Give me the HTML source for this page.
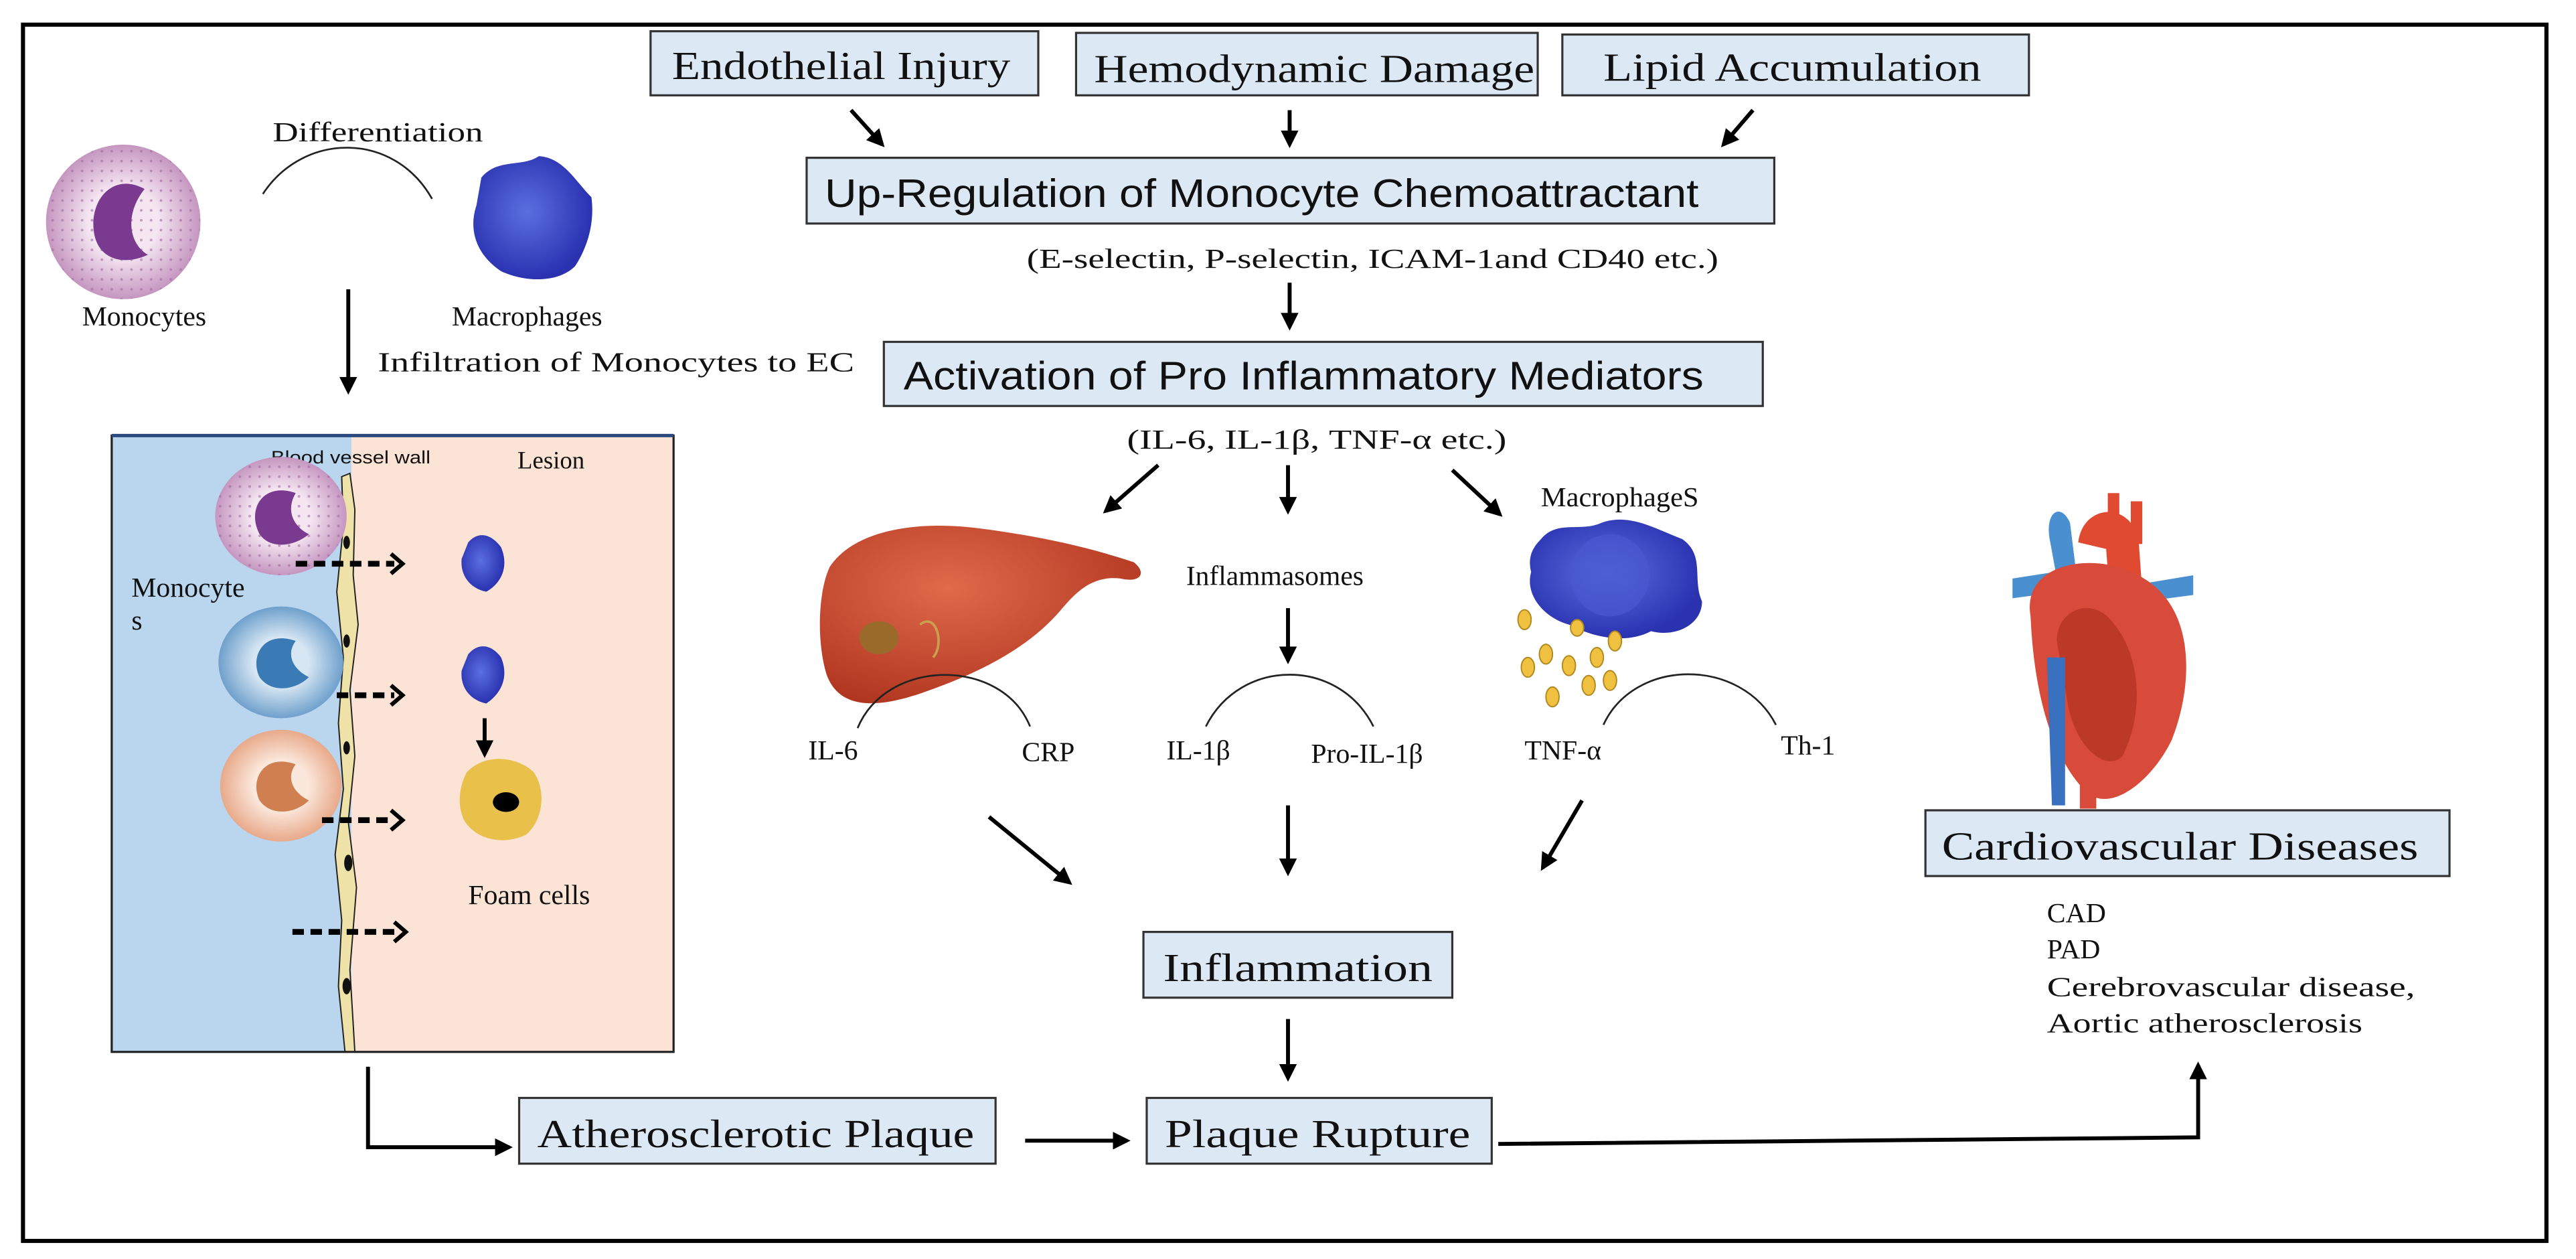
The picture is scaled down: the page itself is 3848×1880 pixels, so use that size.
<!DOCTYPE html>
<html><head><meta charset="utf-8"><style>
html,body{margin:0;padding:0;background:#fff;}
svg{display:block;}
.s{font-family:"Liberation Serif",serif;fill:#111;}
.a{font-family:"Liberation Sans",sans-serif;fill:#111;}
.box{fill:#dce9f5;stroke:#333;stroke-width:1.3;}
.ln{stroke:#000;stroke-width:2.4;fill:none;}
.arc{stroke:#222;stroke-width:1.1;fill:none;}
</style></head><body>
<svg width="3848" height="1880" viewBox="0 0 1568 766" preserveAspectRatio="none" xmlns="http://www.w3.org/2000/svg">
<defs>
<marker id="ah" viewBox="0 0 10 10" refX="8" refY="5" markerWidth="4.5" markerHeight="4.5" orient="auto"><path d="M0,0 L10,5 L0,10 z" fill="#000"/></marker>
<radialGradient id="gp" cx="50%" cy="50%" r="50%"><stop offset="0.45" stop-color="#f5e6f2"/><stop offset="1" stop-color="#c596c0"/></radialGradient>
<radialGradient id="gb" cx="50%" cy="50%" r="50%"><stop offset="0.45" stop-color="#d6e6f3"/><stop offset="1" stop-color="#6fa0cc"/></radialGradient>
<radialGradient id="go" cx="50%" cy="50%" r="50%"><stop offset="0.45" stop-color="#fbe8dc"/><stop offset="1" stop-color="#e8a98a"/></radialGradient>
<radialGradient id="gm" cx="45%" cy="45%" r="55%"><stop offset="0" stop-color="#5a6fe0"/><stop offset="1" stop-color="#2a32b0"/></radialGradient>
<radialGradient id="gl" cx="40%" cy="35%" r="70%"><stop offset="0" stop-color="#e06a4a"/><stop offset="1" stop-color="#b0351f"/></radialGradient>
<pattern id="dots" width="6" height="6" patternUnits="userSpaceOnUse"><circle cx="2" cy="2" r="0.8" fill="#a06aa0" opacity="0.6"/></pattern>
</defs>
<rect x="0" y="0" width="1568" height="766" fill="#fff"/>
<rect x="14" y="15" width="1536" height="740" fill="none" stroke="#000" stroke-width="2.5"/>

<rect class="box" x="396" y="19" width="236" height="39"/>
<text class="s" x="409" y="48" font-size="24" textLength="206" lengthAdjust="spacingAndGlyphs">Endothelial Injury</text>
<rect class="box" x="655" y="20" width="281" height="38"/>
<text class="s" x="666" y="50" font-size="24" textLength="268" lengthAdjust="spacingAndGlyphs">Hemodynamic Damage</text>
<rect class="box" x="951" y="21" width="284" height="37"/>
<text class="s" x="976" y="49" font-size="24" textLength="230" lengthAdjust="spacingAndGlyphs">Lipid Accumulation</text>
<line class="ln" x1="518" y1="67" x2="537" y2="88" marker-end="url(#ah)"/>
<line class="ln" x1="785" y1="67" x2="785" y2="88" marker-end="url(#ah)"/>
<line class="ln" x1="1067" y1="67" x2="1049" y2="88" marker-end="url(#ah)"/>

<rect class="box" x="491" y="96" width="589" height="40"/>
<text class="a" x="502" y="126" font-size="24" textLength="532" lengthAdjust="spacingAndGlyphs">Up-Regulation of Monocyte Chemoattractant</text>
<text class="s" x="625" y="163" font-size="17" textLength="421" lengthAdjust="spacingAndGlyphs">(E-selectin, P-selectin, ICAM-1and CD40 etc.)</text>
<line class="ln" x1="785" y1="172" x2="785" y2="199" marker-end="url(#ah)"/>

<rect class="box" x="538" y="208" width="535" height="39"/>
<text class="a" x="550" y="237" font-size="24" textLength="487" lengthAdjust="spacingAndGlyphs">Activation of Pro Inflammatory Mediators</text>
<text class="s" x="686" y="273" font-size="17" textLength="231" lengthAdjust="spacingAndGlyphs">(IL-6, IL-1β, TNF-α etc.)</text>
<line class="ln" x1="705" y1="283" x2="673" y2="311" marker-end="url(#ah)"/>
<line class="ln" x1="784" y1="283" x2="784" y2="311" marker-end="url(#ah)"/>
<line class="ln" x1="884" y1="286" x2="913" y2="313" marker-end="url(#ah)"/>

<text class="s" x="938" y="308" font-size="17" textLength="96" lengthAdjust="spacingAndGlyphs">MacrophageS</text>
<text class="s" x="722" y="356" font-size="17" textLength="108" lengthAdjust="spacingAndGlyphs">Inflammasomes</text>
<line class="ln" x1="784" y1="370" x2="784" y2="402" marker-end="url(#ah)"/>

<path d="M505,345 C520,322 560,316 600,322 C630,326 660,332 690,342 C698,348 695,355 682,352 C665,350 655,360 645,372 C625,395 595,410 560,422 C530,432 510,430 503,410 C497,390 498,360 505,345 Z" fill="url(#gl)"/>
<ellipse cx="535" cy="388" rx="12" ry="10" fill="#9a6a2a"/>
<path d="M560,380 C570,372 575,392 568,400" stroke="#c8a050" stroke-width="1.5" fill="none"/>

<path d="M938,328 C948,316 962,324 975,318 C992,312 1008,322 1024,328 C1038,338 1030,352 1036,366 C1036,380 1020,388 1005,384 C990,392 970,388 955,380 C940,376 928,362 932,348 C930,340 932,334 938,328 Z" fill="url(#gm)"/>
<ellipse cx="980" cy="350" rx="24" ry="25" fill="#4858d0" opacity="0.7"/>
<g fill="#f0c040" stroke="#b08a20" stroke-width="0.8">
<ellipse cx="928" cy="377" rx="4" ry="6"/><ellipse cx="941" cy="398" rx="4" ry="6"/><ellipse cx="955" cy="405" rx="4" ry="6"/><ellipse cx="960" cy="382" rx="4" ry="5"/><ellipse cx="972" cy="400" rx="4" ry="6"/><ellipse cx="983" cy="390" rx="4" ry="6"/><ellipse cx="930" cy="406" rx="4" ry="6"/><ellipse cx="967" cy="417" rx="4" ry="6"/><ellipse cx="945" cy="424" rx="4" ry="6"/><ellipse cx="980" cy="414" rx="4" ry="6"/>
</g>

<path class="arc" d="M522,443 C540,400 610,400 627,442"/>
<text class="s" x="492" y="462" font-size="17">IL-6</text>
<text class="s" x="622" y="463" font-size="17">CRP</text>
<path class="arc" d="M734,442 C755,400 815,400 836,442"/>
<text class="s" x="710" y="462" font-size="17">IL-1β</text>
<text class="s" x="798" y="464" font-size="17">Pro-IL-1β</text>
<path class="arc" d="M976,441 C995,400 1060,400 1081,441"/>
<text class="s" x="928" y="462" font-size="17">TNF-α</text>
<text class="s" x="1084" y="459" font-size="17">Th-1</text>

<line class="ln" x1="602" y1="497" x2="651" y2="537" marker-end="url(#ah)"/>
<line class="ln" x1="784" y1="490" x2="784" y2="531" marker-end="url(#ah)"/>
<line class="ln" x1="963" y1="487" x2="939" y2="528" marker-end="url(#ah)"/>

<rect class="box" x="696" y="567" width="188" height="40"/>
<text class="s" x="708" y="597" font-size="24" textLength="164" lengthAdjust="spacingAndGlyphs">Inflammation</text>
<line class="ln" x1="784" y1="620" x2="784" y2="656" marker-end="url(#ah)"/>

<rect class="box" x="316" y="668" width="290" height="40"/>
<text class="s" x="327" y="698" font-size="24" textLength="266" lengthAdjust="spacingAndGlyphs">Atherosclerotic Plaque</text>
<rect class="box" x="698" y="668" width="210" height="40"/>
<text class="s" x="709" y="698" font-size="24" textLength="186" lengthAdjust="spacingAndGlyphs">Plaque Rupture</text>
<line class="ln" x1="624" y1="694" x2="686" y2="694" marker-end="url(#ah)"/>
<polyline class="ln" points="224,649 224,698 310,698" marker-end="url(#ah)"/>
<polyline class="ln" points="912,696 1338,692 1338,648" marker-end="url(#ah)"/>

<!-- heart -->
<g>
<path d="M1248,330 C1244,312 1254,305 1260,318 L1264,350 L1252,352 Z" fill="#4a90d0"/>
<path d="M1265,330 C1268,305 1300,305 1302,332 L1304,360 L1284,360 L1282,334 Z" fill="#e04a30"/>
<rect x="1283" y="300" width="7" height="28" fill="#e04a30"/>
<rect x="1297" y="305" width="7" height="26" fill="#e04a30"/>
<path d="M1225,352 L1270,345 L1270,358 L1225,364 Z" fill="#4a90d0"/>
<path d="M1305,355 L1335,350 L1335,362 L1305,366 Z" fill="#4a90d0"/>
<path d="M1236,375 C1230,340 1280,335 1305,352 C1338,372 1334,420 1322,450 C1310,475 1285,495 1270,482 C1248,460 1238,420 1236,375 Z" fill="#d84a3a"/>
<path d="M1252,390 C1252,370 1275,362 1287,380 C1302,398 1306,432 1292,460 C1282,470 1264,455 1259,430 Z" fill="#b03020" opacity="0.7"/>
<path d="M1246,400 L1257,400 L1257,490 L1249,490 Z" fill="#3a70c0"/>
<rect x="1266" y="472" width="10" height="20" fill="#d84a3a"/>
</g>
<rect class="box" x="1172" y="493" width="319" height="40"/>
<text class="s" x="1182" y="523" font-size="24" textLength="290" lengthAdjust="spacingAndGlyphs">Cardiovascular Diseases</text>
<text class="s" x="1246" y="561" font-size="17">CAD</text>
<text class="s" x="1246" y="583" font-size="17">PAD</text>
<text class="s" x="1246" y="606" font-size="17" textLength="224" lengthAdjust="spacingAndGlyphs">Cerebrovascular disease,</text>
<text class="s" x="1246" y="628" font-size="17" textLength="192" lengthAdjust="spacingAndGlyphs">Aortic atherosclerosis</text>

<text class="s" x="166" y="86" font-size="17" textLength="128" lengthAdjust="spacingAndGlyphs">Differentiation</text>
<path class="arc" d="M160,118 C185,80 240,80 263,121"/>
<circle cx="75" cy="135" r="47" fill="url(#gp)"/>
<circle cx="75" cy="135" r="47" fill="url(#dots)"/>
<path d="M88,115 C70,105 55,120 57,140 C59,158 75,162 90,155 C78,148 76,130 88,115 Z" fill="#7a3a90"/>
<path d="M293,108 C303,96 318,102 328,95 C343,96 350,110 360,120 C362,135 358,150 350,162 C340,172 320,172 305,165 C290,155 285,140 290,125 Z" fill="url(#gm)"/>
<text class="s" x="50" y="198" font-size="17">Monocytes</text>
<text class="s" x="275" y="198" font-size="17">Macrophages</text>
<text class="s" x="230" y="226" font-size="17" textLength="290" lengthAdjust="spacingAndGlyphs">Infiltration  of Monocytes to  EC</text>
<line class="ln" x1="212" y1="176" x2="212" y2="238" marker-end="url(#ah)"/>

<rect x="68" y="265" width="146" height="375" fill="#bad5ee"/>
<rect x="214" y="265" width="196" height="375" fill="#fbe3d6"/>
<path d="M208,290 L213,288 L216,310 L215,350 L218,380 L213,420 L216,460 L212,500 L217,540 L213,590 L216,640 L210,640 L206,600 L208,560 L204,520 L209,480 L206,440 L209,400 L205,360 L209,320 Z" fill="#efe2a8" stroke="#222" stroke-width="0.8"/>
<g fill="#111"><ellipse cx="211" cy="330" rx="2" ry="4"/><ellipse cx="211" cy="390" rx="2" ry="4"/><ellipse cx="211" cy="455" rx="2" ry="4"/><ellipse cx="212" cy="525" rx="2.5" ry="5"/><ellipse cx="211" cy="600" rx="2.5" ry="5"/></g>
<rect x="68" y="265" width="342" height="375" fill="none" stroke="#222" stroke-width="1.3"/>
<line x1="68" y1="265" x2="410" y2="265" stroke="#2a4a80" stroke-width="2"/>
<text class="a" x="165" y="282" font-size="11" textLength="97" lengthAdjust="spacingAndGlyphs">Blood vessel wall</text>
<text class="s" x="315" y="285" font-size="15">Lesion</text>
<ellipse cx="171" cy="314" rx="40" ry="36" fill="url(#gp)"/>
<ellipse cx="171" cy="314" rx="40" ry="36" fill="url(#dots)"/>
<path d="M180,300 C160,293 150,310 158,325 C165,335 180,332 188,325 C178,320 174,310 180,300 Z" fill="#7a3a90"/>
<ellipse cx="171" cy="403" rx="38" ry="34" fill="url(#gb)"/>
<path d="M180,390 C160,383 152,400 158,412 C165,422 180,420 188,412 C178,407 174,398 180,390 Z" fill="#3a7ab5"/>
<ellipse cx="171" cy="478" rx="37" ry="34" fill="url(#go)"/>
<path d="M180,465 C160,458 152,475 158,487 C165,497 180,495 188,487 C178,482 174,473 180,465 Z" fill="#d08050"/>
<text class="s" x="80" y="363" font-size="17">Monocyte</text>
<text class="s" x="80" y="383" font-size="17">s</text>
<g stroke="#000" stroke-width="3.5" stroke-dasharray="7,4" fill="none">
<line x1="180" y1="343" x2="240" y2="343"/><line x1="205" y1="423" x2="240" y2="423"/><line x1="196" y1="499" x2="240" y2="499"/><line x1="178" y1="567" x2="242" y2="567"/>
</g>
<g fill="none" stroke="#000" stroke-width="2.5"><polyline points="238,337 245,343 238,349"/><polyline points="238,417 245,423 238,429"/><polyline points="238,493 245,499 238,505"/><polyline points="240,561 247,567 240,573"/></g>
<path d="M285,330 C292,322 300,326 305,333 C310,345 305,355 296,360 C286,358 280,350 281,340 Z" fill="url(#gm)"/>
<path d="M285,398 C292,390 300,393 305,400 C310,412 305,422 296,428 C286,426 280,418 281,408 Z" fill="url(#gm)"/>
<line class="ln" x1="295" y1="437" x2="295" y2="459" marker-end="url(#ah)"/>
<path d="M284,470 C295,458 315,460 325,470 C333,482 330,500 320,508 C305,515 288,510 282,498 C278,488 280,478 284,470 Z" fill="#e8c04a"/>
<ellipse cx="308" cy="488" rx="8" ry="6" fill="#000"/>
<text class="s" x="285" y="550" font-size="17">Foam cells</text>
</svg>
</body></html>
